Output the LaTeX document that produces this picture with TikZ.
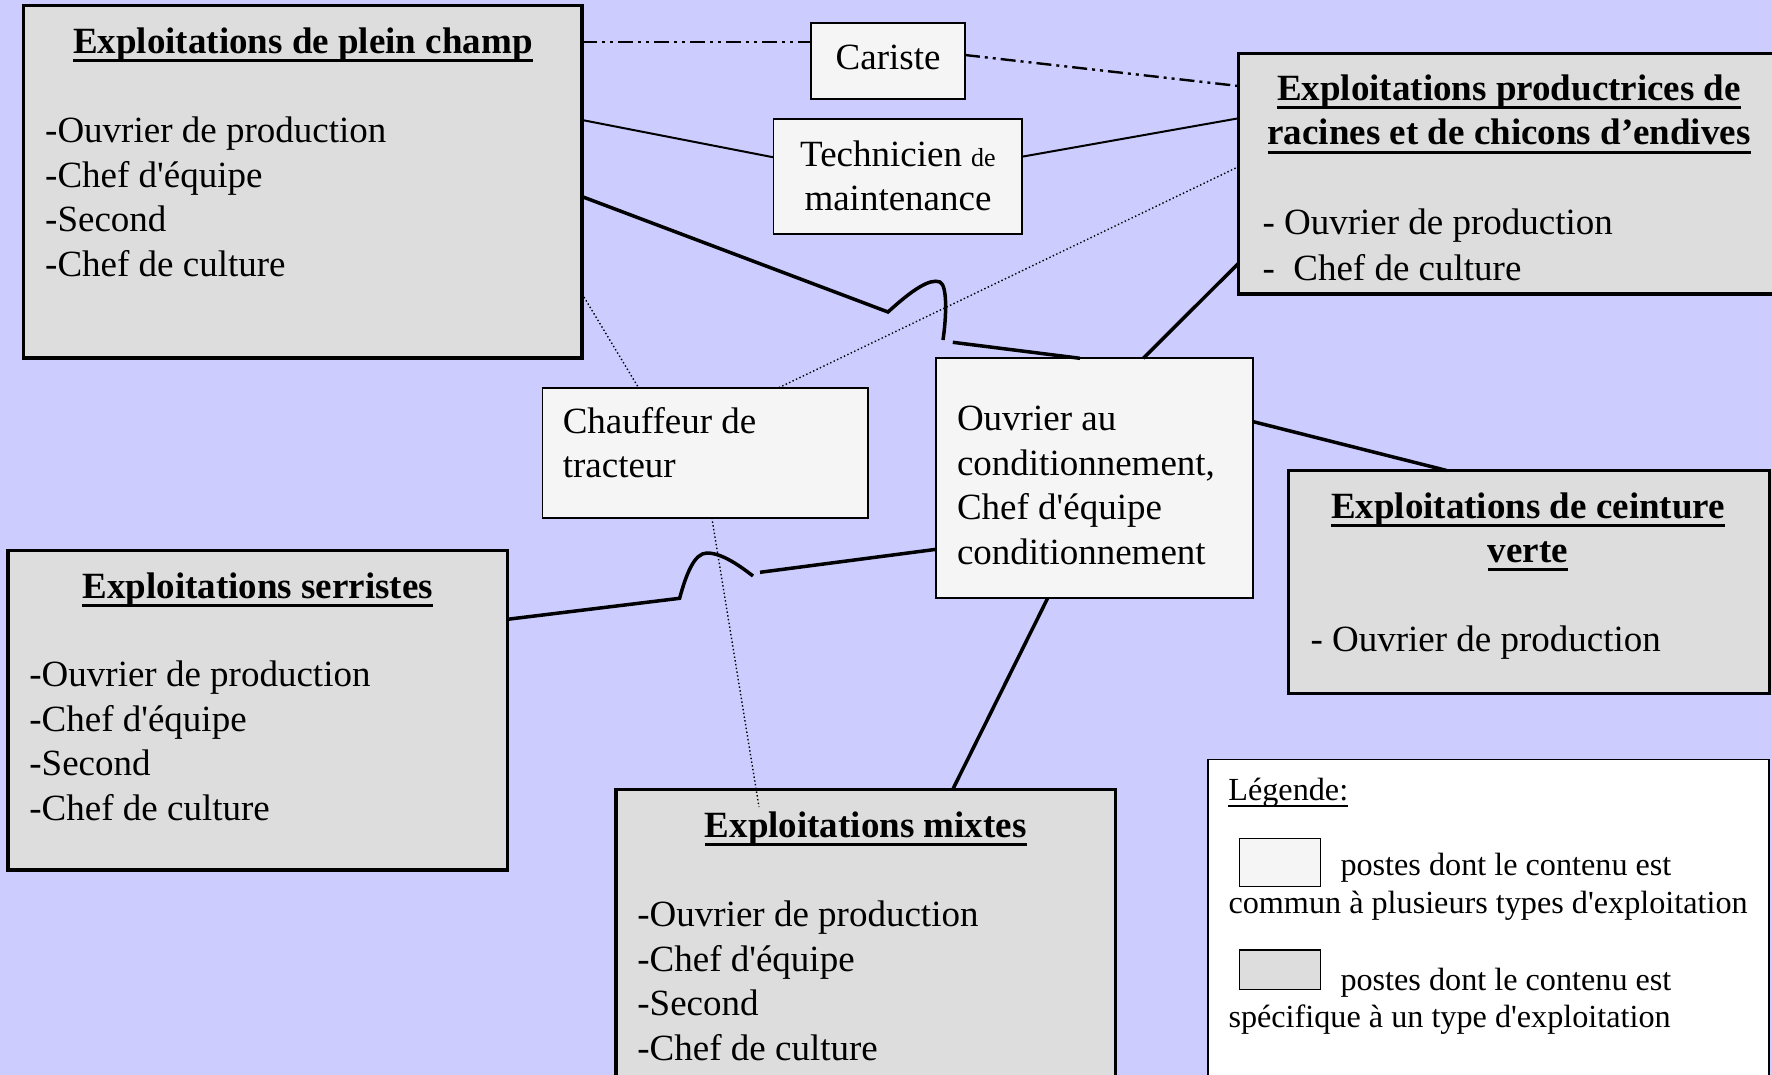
\documentclass[tikz,border=0pt]{standalone}
\usepackage{fontspec}
\setmainfont{Liberation Serif}[Ligatures=TeXOff]
\definecolor{bgc}{RGB}{204,204,255}
\definecolor{specc}{RGB}{221,221,221}
\definecolor{commc}{RGB}{245,245,245}
\newsavebox\ulbox
\newcommand\ulb[1]{\sbox\ulbox{#1}\rlap{\rule[-8.8pt]{\wd\ulbox}{3pt}}\usebox\ulbox}
\newcommand\ull[1]{\sbox\ulbox{#1}\rlap{\rule[-6.5pt]{\wd\ulbox}{1.8pt}}\usebox\ulbox}
\newcommand\bigf{\fontsize{37}{45}\selectfont}
\newcommand\legf{\fontsize{32.2}{38}\selectfont}
\begin{document}
\begin{tikzpicture}[x=1pt,y=-1pt,
  spec/.style={draw=black, fill=specc, line width=3.5pt, inner sep=0pt, outer sep=0pt, anchor=north west},
  comm/.style={draw=black, fill=commc, line width=1.8pt, inner sep=0pt, outer sep=0pt, anchor=north west},
  txt/.style={inner sep=0pt, outer sep=0pt, font=\bigf, anchor=base west},
  ctxt/.style={inner sep=0pt, outer sep=0pt, font=\bigf, anchor=base},
  ttl/.style={inner sep=0pt, outer sep=0pt, font=\bigf\bfseries, anchor=base},
  ltxt/.style={inner sep=0pt, outer sep=0pt, font=\legf, anchor=base west},
  strong/.style={line width=3.5pt},
  thinline/.style={line width=2pt},
  dots/.style={line width=1.4pt, dash pattern=on 1.4pt off 2.4pt},
  dashdd/.style={line width=2.4pt, dash pattern=on 15pt off 5pt on 3pt off 5pt on 3pt off 5pt}]

\fill[bgc] (0,0) rectangle (1772,1075);
\useasboundingbox (0,0) rectangle (1772,1075);
\clip (0,0) rectangle (1772,1075);

% boxes
\node[spec, minimum width=558.3pt, minimum height=352.5pt] (A) at (23.7,5.7) {};
\node[comm, minimum width=153.6pt, minimum height=76pt] (Car) at (811.3,23.3) {};
\node[comm, minimum width=248.6pt, minimum height=115pt] (Tech) at (773.4,119.3) {};
\node[spec, minimum width=540pt, minimum height=240.7pt] (B) at (1238.5,53.3) {};
\node[comm, minimum width=325.6pt, minimum height=130pt] (Ch) at (542.4,387.7) {};
\node[comm, minimum width=317pt, minimum height=240pt] (Ouv) at (936.3,358.3) {};
\node[spec, minimum width=481pt, minimum height=223pt] (Cein) at (1288.3,470.5) {};
\node[spec, minimum width=499.5pt, minimum height=319.8pt] (Ser) at (7.9,550.4) {};
\node[spec, minimum width=499.5pt, minimum height=310pt] (Mix) at (615.9,789.5) {};
\node[draw=black, fill=white, line width=1.5pt, inner sep=0pt, outer sep=0pt, anchor=north west,
      minimum width=561pt, minimum height=330pt] (L) at (1208,759.3) {};
\node[comm, line width=1.5pt, minimum width=81.1pt, minimum height=48.4pt] (L1) at (1239.4,838.3) {};
\node[spec, line width=1.5pt, minimum width=81.1pt, minimum height=39.3pt] (L2) at (1239.4,950) {};

% connectors
\draw[dashdd] (A.east |- 0,42.3) -- (Car.west |- 0,42.3);
\draw[dashdd] (Car.east |- 0,55) -- (B.west |- 0,86);
\draw[thinline] (A.east |- 0,120) -- (Tech.west |- 0,157.3);
\draw[thinline] (Tech.east |- 0,156.7) -- (B.west |- 0,118.3);
\draw[strong] (A.east |- 0,196.6) -- (888,312) .. controls (912,290) and (930,278) .. (940,282)
      .. controls (948,286) and (946,320) .. (943,340);
\coordinate (h1) at (952.8,342.3);
\draw[strong] (h1) -- (Ouv.north -| 1080,0);
\draw[strong] (Ouv.north -| 1143.3,0) -- (B.west |- 0,263.3);
\draw[strong] (Ouv.east |- 0,421.7) -- (Cein.north -| 1446.7,0);
\draw[strong] (Ser.east |- 0,619.3) -- (679.6,598.3) .. controls (686,575) and (694,553) .. (707,553)
      .. controls (722,553) and (740,566) .. (753,576);
\coordinate (h2) at (760,572.3);
\draw[strong] (h2) -- (Ouv.west |- 0,549.3);
\draw[strong] (Ouv.south -| 1047.6,0) -- (Mix.north -| 952.7,0);
\draw[dots] (A.east |- 0,293.8) -- (Ch.north -| 638.5,0);
\draw[dots] (Ch.north -| 778.8,0) -- (B.west |- 0,166.7);
\coordinate (mixend) at (759,807);
\draw[dots] (Ch.south -| 711.8,0) -- (mixend);

% texts: plein champ
\node[ttl] (At) at (302.9,53.3) {\ulb{Exploitations de plein champ}};
\node[txt] (A1) at (45.2,142.6) {-Ouvrier de production};
\node[txt] (A2) at (45.2,187.3) {-Chef d'équipe};
\node[txt] (A3) at (45.2,232) {-Second};
\node[txt] (A4) at (45.2,276.7) {-Chef de culture};

% cariste, technicien
\node[ctxt] (Cart) at (888.1,70) {Cariste};
\node[ctxt] (Tech1) at (898,166.7) {Technicien {\fontsize{26}{30}\selectfont de}};
\node[ctxt] (Tech2) at (898,210.5) {maintenance};

% racines et chicons
\node[ttl] (Bt1) at (1509,100.5) {\ulb{Exploitations productrices de}};
\node[ttl] (Bt2) at (1509,145) {\ulb{racines et de chicons d’endives}};
\node[txt] (B1) at (1262.5,235) {- Ouvrier de production};
\node[txt] (B2) at (1262.5,280) {-\ \ Chef de culture};

% chauffeur
\node[txt] (Ch1) at (562.8,433.5) {Chauffeur de};
\node[txt] (Ch2) at (562.8,477) {tracteur};

% ouvrier au conditionnement
\node[txt] (O1) at (957,430.5) {Ouvrier au};
\node[txt] (O2) at (957,475) {conditionnement,};
\node[txt] (O3) at (957,519.5) {Chef d'équipe};
\node[txt] (O4) at (957,564) {conditionnement};

% ceinture verte
\node[ttl] (Ct1) at (1528,518) {\ulb{Exploitations de ceinture}};
\node[ttl] (Ct2) at (1528,562.5) {\ulb{verte}};
\node[txt] (C1) at (1310.5,651.5) {- Ouvrier de production};

% serristes
\node[ttl] (St) at (257.7,598) {\ulb{Exploitations serristes}};
\node[txt] (S1) at (29.4,686.2) {-Ouvrier de production};
\node[txt] (S2) at (29.4,731) {-Chef d'équipe};
\node[txt] (S3) at (29.4,775.8) {-Second};
\node[txt] (S4) at (29.4,820.6) {-Chef de culture};

% mixtes
\node[ttl] (Mt) at (865.7,837.5) {\ulb{Exploitations mixtes}};
\node[txt] (M1) at (637.4,926.9) {-Ouvrier de production};
\node[txt] (M2) at (637.4,971.3) {-Chef d'équipe};
\node[txt] (M3) at (637.4,1015.9) {-Second};
\node[txt] (M4) at (637.4,1060.4) {-Chef de culture};

% legend
\node[ltxt] (Lt) at (1228.4,800) {\ull{Légende:}};
\node[ltxt] (La1) at (1340.5,875) {postes dont le contenu est};
\node[ltxt] (La2) at (1228.5,913.3) {commun à plusieurs types d'exploitation};
\node[ltxt] (Lb1) at (1340.5,990) {postes dont le contenu est};
\node[ltxt] (Lb2) at (1228.5,1027) {spécifique à un type d'exploitation};
\end{tikzpicture}
\end{document}
